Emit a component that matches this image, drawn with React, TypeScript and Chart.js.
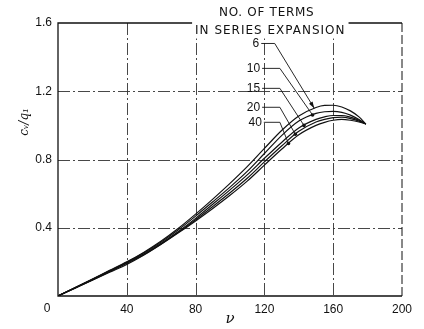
import React, { useEffect, useRef } from 'react';
import { Chart, registerables } from 'chart.js';

Chart.register(...registerables);

// ν values shared by all curves
const nu = [0, 10, 20, 30, 40, 50, 60, 70, 80, 90, 100, 110, 120, 130, 140, 150, 155, 160, 165, 170, 175, 179];

const terms6 = [0, 0.05, 0.1, 0.15, 0.2, 0.257, 0.322, 0.397, 0.48, 0.568, 0.66, 0.758, 0.865, 0.97, 1.055, 1.105, 1.117, 1.118, 1.108, 1.085, 1.05, 1.008];
const terms10 = [0, 0.049, 0.098, 0.148, 0.198, 0.253, 0.316, 0.388, 0.468, 0.552, 0.638, 0.73, 0.835, 0.94, 1.025, 1.07, 1.08, 1.082, 1.076, 1.06, 1.035, 1.008];
const terms15 = [0, 0.048, 0.096, 0.145, 0.195, 0.248, 0.309, 0.378, 0.455, 0.538, 0.622, 0.71, 0.807, 0.9, 0.985, 1.035, 1.05, 1.058, 1.058, 1.048, 1.03, 1.008];
const terms20 = [0, 0.047, 0.094, 0.142, 0.19, 0.243, 0.305, 0.373, 0.447, 0.525, 0.605, 0.69, 0.786, 0.879, 0.965, 1.02, 1.035, 1.045, 1.048, 1.04, 1.025, 1.008];
const terms40 = [0, 0.046, 0.092, 0.139, 0.185, 0.24, 0.303, 0.37, 0.44, 0.513, 0.59, 0.673, 0.767, 0.86, 0.945, 1.0, 1.018, 1.03, 1.035, 1.03, 1.02, 1.008];

const seriesLabels = ['6', '10', '15', '20', '40'];
const seriesValues = [terms6, terms10, terms15, terms20, terms40];

// label anchors (data coords) and leader targets (ν on each curve)
const labelNu = [117, 117.5, 117.5, 117.5, 118.5];
const labelY = [1.48, 1.334, 1.217, 1.106, 1.018];
const elbowNu = [126, 129, 129, 129, 129];
const targetNu = [149, 148, 143, 138, 134];

const xTicks = [0, 40, 80, 120, 160, 200];
const yTicks = [0, 0.4, 0.8, 1.2, 1.6];

const headerLine1 = 'NO. OF TERMS';
const headerLine2 = 'IN SERIES EXPANSION';
const xTitle = 'ν';
const yTitle = 'cᵥ/q₁';
const originLabel = '0';

const FONT = '"Liberation Sans", Arial, sans-serif';

function interp(xs: number[], ys: number[], v: number): number {
  for (let i = 0; i < xs.length - 1; i++) {
    if (v >= xs[i] && v <= xs[i + 1]) {
      const t = (v - xs[i]) / (xs[i + 1] - xs[i]);
      return ys[i] + t * (ys[i + 1] - ys[i]);
    }
  }
  return ys[ys.length - 1];
}

const gridPlugin = {
  id: 'gridFrame',
  beforeDatasetsDraw(chart: any) {
    const { ctx, chartArea, scales } = chart;
    const { left, right, top, bottom } = chartArea;
    const x = scales.x;
    const y = scales.y;
    ctx.save();
    ctx.strokeStyle = '#333';
    ctx.lineWidth = 0.9;
    ctx.setLineDash([12, 3, 2, 3]);
    xTicks.slice(1, -1).forEach((v) => {
      const px = Math.round(x.getPixelForValue(v)) + 0.5;
      ctx.beginPath();
      ctx.moveTo(px, top);
      ctx.lineTo(px, bottom);
      ctx.stroke();
    });
    yTicks.slice(1, -1).forEach((v) => {
      const py = Math.round(y.getPixelForValue(v)) + 0.5;
      ctx.beginPath();
      ctx.moveTo(left, py);
      ctx.lineTo(right, py);
      ctx.stroke();
    });
    // frame
    ctx.setLineDash([]);
    ctx.strokeStyle = '#111';
    ctx.lineWidth = 1.3;
    ctx.beginPath();
    ctx.moveTo(right, top);
    ctx.lineTo(left, top);
    ctx.lineTo(left, bottom);
    ctx.lineTo(right, bottom);
    ctx.stroke();
    ctx.setLineDash([9, 3]);
    ctx.lineWidth = 1;
    ctx.beginPath();
    ctx.moveTo(right, top);
    ctx.lineTo(right, bottom);
    ctx.stroke();
    ctx.restore();
  },
  afterDatasetsDraw(chart: any) {
    const { ctx, chartArea, scales } = chart;
    const { left, bottom } = chartArea;
    const x = scales.x;
    const y = scales.y;
    ctx.save();
    ctx.fillStyle = '#111';
    ctx.strokeStyle = '#111';
    ctx.font = `12px "DejaVu Sans", ${FONT}`;
    ctx.textBaseline = 'middle';
    ctx.textAlign = 'left';

    // header
    const h1x = x.getPixelForValue(93.6);
    const h1y = y.getPixelForValue(1.66);
    (ctx as any).letterSpacing = '0.7px';
    ctx.fillText(headerLine1, h1x, h1y);
    (ctx as any).letterSpacing = '1px';
    const h2x = x.getPixelForValue(79.7);
    const h2y = y.getPixelForValue(1.556);
    const w2 = ctx.measureText(headerLine2).width;
    ctx.fillStyle = '#fff';
    ctx.fillRect(h2x - 3, y.getPixelForValue(1.6) - 3, w2 + 6, h2y + 8 - (y.getPixelForValue(1.6) - 3));
    ctx.fillStyle = '#111';
    ctx.fillText(headerLine2, h2x, h2y);
    (ctx as any).letterSpacing = '0px';

    // series labels and leaders
    ctx.font = `12px ${FONT}`;
    ctx.textAlign = 'right';
    ctx.lineWidth = 0.9;
    seriesLabels.forEach((lab, i) => {
      const lx = x.getPixelForValue(labelNu[i]);
      const ly = y.getPixelForValue(labelY[i]);
      ctx.fillText(lab, lx, ly);
      const ex = x.getPixelForValue(elbowNu[i]);
      const tx = x.getPixelForValue(targetNu[i]);
      const ty = y.getPixelForValue(interp(nu, seriesValues[i], targetNu[i]));
      ctx.beginPath();
      ctx.moveTo(lx + 2, ly);
      ctx.lineTo(ex, ly);
      ctx.lineTo(tx, ty);
      ctx.stroke();
      const ang = Math.atan2(ty - ly, tx - ex);
      if (i === 0) {
        ctx.beginPath();
        ctx.moveTo(tx, ty);
        ctx.lineTo(tx - 7 * Math.cos(ang - 0.3), ty - 7 * Math.sin(ang - 0.3));
        ctx.lineTo(tx - 7 * Math.cos(ang + 0.3), ty - 7 * Math.sin(ang + 0.3));
        ctx.closePath();
        ctx.fill();
      } else {
        ctx.beginPath();
        ctx.arc(tx, ty, 1.8, 0, Math.PI * 2);
        ctx.fill();
      }
    });

    // origin label
    ctx.textAlign = 'center';
    ctx.font = `12px ${FONT}`;
    ctx.fillText(originLabel, left - 11, bottom + 13);

    // y title
    ctx.save();
    ctx.translate(left - 33, y.getPixelForValue(1.02));
    ctx.rotate(-Math.PI / 2);
    ctx.font = `italic 12px "DejaVu Serif", serif`;
    ctx.fillText(yTitle, 0, 0);
    ctx.restore();

    ctx.restore();
  },
};

export default function App() {
  const ref = useRef<HTMLCanvasElement>(null);
  useEffect(() => {
    if (!ref.current) return;
    const chart = new Chart(ref.current, {
      type: 'line',
      data: {
        datasets: seriesLabels.map((lab, i) => ({
          label: lab,
          data: nu.map((v, j) => ({ x: v, y: seriesValues[i][j] })),
          borderColor: '#111',
          borderWidth: 1.2,
          pointRadius: 0,
          fill: false,
          cubicInterpolationMode: 'monotone' as const,
        })),
      },
      options: {
        responsive: false,
        animation: false,
        layout: { padding: { top: 23, right: 22, left: 0, bottom: 0 } },
        plugins: { legend: { display: false }, tooltip: { enabled: false } },
        scales: {
          x: {
            type: 'linear',
            min: 0,
            max: 200,
            afterBuildTicks: (s: any) => {
              s.ticks = xTicks.map((v) => ({ value: v }));
            },
            afterFit: (s: any) => {
              s.height = 33;
            },
            grid: { display: false, drawTicks: false },
            border: { display: false },
            ticks: {
              padding: 6,
              maxRotation: 0,
              color: '#111',
              font: { family: FONT, size: 12 },
              callback: (v: any) => (v === 0 ? '' : String(v)),
            },
            title: {
              display: true,
              text: xTitle,
              color: '#111',
              font: { family: '"DejaVu Serif", serif', size: 15, style: 'italic' },
              padding: { top: 0, bottom: 1 },
            },
          },
          y: {
            type: 'linear',
            min: 0,
            max: 1.6,
            afterBuildTicks: (s: any) => {
              s.ticks = yTicks.map((v) => ({ value: v }));
            },
            afterFit: (s: any) => {
              s.width = 58;
            },
            grid: { display: false, drawTicks: false },
            border: { display: false },
            ticks: {
              padding: 6,
              color: '#111',
              font: { family: FONT, size: 12 },
              callback: (v: any) => (v === 0 ? '' : Number(v).toFixed(1)),
            },
          },
        },
      },
      plugins: [gridPlugin],
    });
    return () => chart.destroy();
  }, []);
  return (
    <div style={{ position: 'fixed', left: 0, top: 0, width: 424, height: 329, background: '#fff' }}>
      <canvas ref={ref} width={424} height={329} />
    </div>
  );
}
